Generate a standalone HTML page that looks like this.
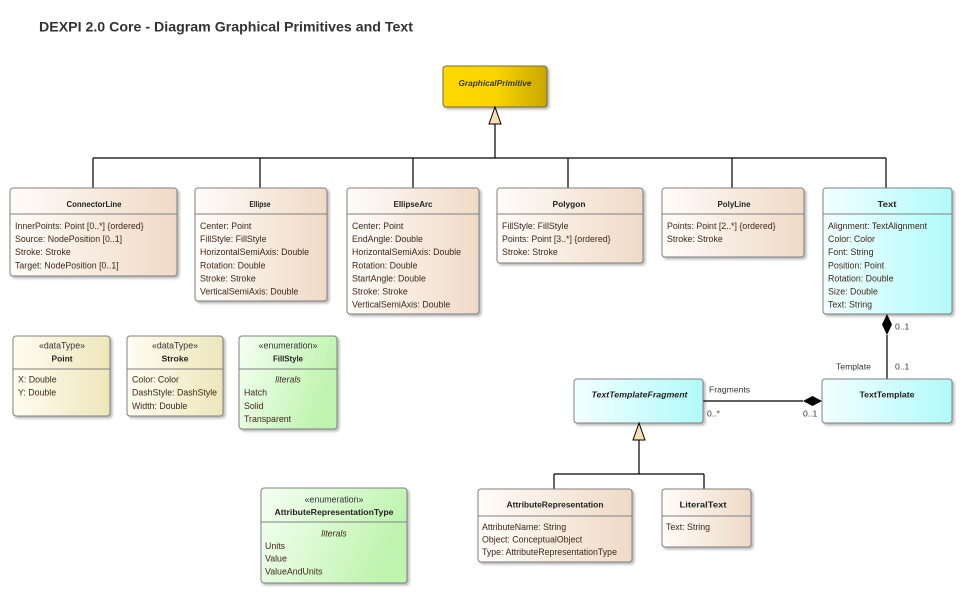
<!DOCTYPE html>
<html><head><meta charset="utf-8"><style>
html,body{margin:0;padding:0;background:#fff;}
svg{display:block;}
text{font-family:"Liberation Sans",Arial,sans-serif;}
.a{font-size:8.8px;fill:#3e2818;}
.h{font-size:8px;font-weight:bold;fill:#222;}
.s{font-size:8.8px;fill:#333;}
.l{font-size:8.6px;fill:#333;}
.it{font-style:italic;}
</style></head><body>
<svg width="962" height="593" viewBox="0 0 962 593" xmlns="http://www.w3.org/2000/svg">
<defs>
<linearGradient id="gc" x1="0" y1="0" x2="1" y2="0"><stop offset="0" stop-color="#FFFCF9"/><stop offset="1" stop-color="#EFDAC6"/></linearGradient>
<linearGradient id="gi" x1="0" y1="0" x2="1" y2="0"><stop offset="0" stop-color="#F2FFFF"/><stop offset="1" stop-color="#B2FAFA"/></linearGradient>
<linearGradient id="gd" x1="0" y1="0" x2="1" y2="0"><stop offset="0" stop-color="#FFFDF2"/><stop offset="1" stop-color="#EEE6BA"/></linearGradient>
<linearGradient id="ge" x1="0" y1="0" x2="1" y2="0.3"><stop offset="0" stop-color="#F6FFF4"/><stop offset="1" stop-color="#BEF4AE"/></linearGradient>
<linearGradient id="gg" x1="0" y1="0" x2="1" y2="0"><stop offset="0" stop-color="#FFD800"/><stop offset="0.5" stop-color="#FBD400"/><stop offset="1" stop-color="#C8A800"/></linearGradient>
<filter id="sh" x="-10%" y="-10%" width="130%" height="130%"><feDropShadow dx="2" dy="2" stdDeviation="1.2" flood-color="#000" flood-opacity="0.28"/></filter>
</defs>

<text x="39" y="31.5" font-size="14" font-weight="bold" fill="#333" textLength="374" lengthAdjust="spacingAndGlyphs">DEXPI 2.0 Core - Diagram Graphical Primitives and Text</text>

<g stroke="#000" stroke-width="1.2" fill="none">
<line x1="495" y1="124" x2="495" y2="158"/>
<line x1="93" y1="158" x2="886" y2="158"/>
<line x1="93" y1="158" x2="93" y2="188"/>
<line x1="260" y1="158" x2="260" y2="188"/>
<line x1="413" y1="158" x2="413" y2="188"/>
<line x1="568" y1="158" x2="568" y2="188"/>
<line x1="732" y1="158" x2="732" y2="188"/>
<line x1="886" y1="158" x2="886" y2="188"/>
<line x1="887" y1="335" x2="887" y2="379"/>
<line x1="703" y1="401" x2="803" y2="401"/>
<line x1="639" y1="440" x2="639" y2="474"/>
<line x1="554" y1="474" x2="704" y2="474"/>
<line x1="554" y1="474" x2="554" y2="489"/>
<line x1="704" y1="474" x2="704" y2="489"/>
</g>

<rect x="443" y="66" width="104" height="41" rx="3" fill="url(#gg)" stroke="#7a6a30" stroke-width="1" filter="url(#sh)"/>
<text x="495" y="86" text-anchor="middle" class="it" font-size="8.6" font-weight="600" fill="#3a3a2a" textLength="73" lengthAdjust="spacingAndGlyphs">GraphicalPrimitive</text>
<polygon points="495,107 489,124 501,124" fill="#FBDDB5" stroke="#000" stroke-width="1"/>

<g>
<rect x="10" y="188" width="167" height="88" rx="3" fill="url(#gc)" stroke="#808080" filter="url(#sh)"/>
<text x="94" y="207" text-anchor="middle" class="h" textLength="55" lengthAdjust="spacingAndGlyphs">ConnectorLine</text>
<line x1="10" y1="214" x2="177" y2="214" stroke="#808080"/>
<text x="15" y="229" class="a">InnerPoints: Point [0..*] {ordered}</text>
<text x="15" y="242.1" class="a">Source: NodePosition [0..1]</text>
<text x="15" y="255.2" class="a">Stroke: Stroke</text>
<text x="15" y="268.3" class="a">Target: NodePosition [0..1]</text>
</g>

<g>
<rect x="195" y="188" width="132" height="113" rx="3" fill="url(#gc)" stroke="#808080" filter="url(#sh)"/>
<text x="260" y="207" text-anchor="middle" class="h" textLength="21" lengthAdjust="spacingAndGlyphs">Ellipse</text>
<line x1="195" y1="214" x2="327" y2="214" stroke="#808080"/>
<text x="200" y="229" class="a">Center: Point</text>
<text x="200" y="242.1" class="a">FillStyle: FillStyle</text>
<text x="200" y="255.2" class="a">HorizontalSemiAxis: Double</text>
<text x="200" y="268.3" class="a">Rotation: Double</text>
<text x="200" y="281.4" class="a">Stroke: Stroke</text>
<text x="200" y="294.5" class="a">VerticalSemiAxis: Double</text>
</g>

<g>
<rect x="347" y="188" width="132" height="126" rx="3" fill="url(#gc)" stroke="#808080" filter="url(#sh)"/>
<text x="413" y="207" text-anchor="middle" class="h" textLength="39" lengthAdjust="spacingAndGlyphs">EllipseArc</text>
<line x1="347" y1="214" x2="479" y2="214" stroke="#808080"/>
<text x="352" y="229" class="a">Center: Point</text>
<text x="352" y="242.1" class="a">EndAngle: Double</text>
<text x="352" y="255.2" class="a">HorizontalSemiAxis: Double</text>
<text x="352" y="268.3" class="a">Rotation: Double</text>
<text x="352" y="281.4" class="a">StartAngle: Double</text>
<text x="352" y="294.5" class="a">Stroke: Stroke</text>
<text x="352" y="307.6" class="a">VerticalSemiAxis: Double</text>
</g>

<g>
<rect x="497" y="188" width="146" height="75" rx="3" fill="url(#gc)" stroke="#808080" filter="url(#sh)"/>
<text x="569" y="207" text-anchor="middle" class="h" textLength="33" lengthAdjust="spacingAndGlyphs">Polygon</text>
<line x1="497" y1="214" x2="643" y2="214" stroke="#808080"/>
<text x="502" y="229" class="a">FillStyle: FillStyle</text>
<text x="502" y="242.1" class="a">Points: Point [3..*] {ordered}</text>
<text x="502" y="255.2" class="a">Stroke: Stroke</text>
</g>

<g>
<rect x="662" y="188" width="142" height="69" rx="3" fill="url(#gc)" stroke="#808080" filter="url(#sh)"/>
<text x="734" y="207" text-anchor="middle" class="h" textLength="33" lengthAdjust="spacingAndGlyphs">PolyLine</text>
<line x1="662" y1="214" x2="804" y2="214" stroke="#808080"/>
<text x="667" y="229" class="a">Points: Point [2..*] {ordered}</text>
<text x="667" y="242.1" class="a">Stroke: Stroke</text>
</g>

<g>
<rect x="823" y="188" width="129" height="126" rx="3" fill="url(#gi)" stroke="#808080" filter="url(#sh)"/>
<text x="887" y="207" text-anchor="middle" class="h" textLength="19" lengthAdjust="spacingAndGlyphs">Text</text>
<line x1="823" y1="214" x2="952" y2="214" stroke="#808080"/>
<text x="828" y="229" class="a">Alignment: TextAlignment</text>
<text x="828" y="242.1" class="a">Color: Color</text>
<text x="828" y="255.2" class="a">Font: String</text>
<text x="828" y="268.3" class="a">Position: Point</text>
<text x="828" y="281.4" class="a">Rotation: Double</text>
<text x="828" y="294.5" class="a">Size: Double</text>
<text x="828" y="307.6" class="a">Text: String</text>
</g>

<g>
<rect x="13" y="336" width="97" height="80" rx="3" fill="url(#gd)" stroke="#808080" filter="url(#sh)"/>
<text x="62" y="348.3" text-anchor="middle" class="s">«dataType»</text>
<text x="62" y="361.5" text-anchor="middle" class="h" textLength="21" lengthAdjust="spacingAndGlyphs">Point</text>
<line x1="13" y1="369" x2="110" y2="369" stroke="#808080"/>
<text x="18" y="382.5" class="a">X: Double</text>
<text x="18" y="395.7" class="a">Y: Double</text>
</g>

<g>
<rect x="127" y="336" width="96" height="80" rx="3" fill="url(#gd)" stroke="#808080" filter="url(#sh)"/>
<text x="175" y="348.3" text-anchor="middle" class="s">«dataType»</text>
<text x="175" y="361.5" text-anchor="middle" class="h" textLength="27" lengthAdjust="spacingAndGlyphs">Stroke</text>
<line x1="127" y1="369" x2="223" y2="369" stroke="#808080"/>
<text x="132" y="382.5" class="a">Color: Color</text>
<text x="132" y="395.7" class="a">DashStyle: DashStyle</text>
<text x="132" y="408.8" class="a">Width: Double</text>
</g>

<g>
<rect x="239" y="336" width="98" height="93" rx="3" fill="url(#ge)" stroke="#808080" filter="url(#sh)"/>
<text x="288" y="348.3" text-anchor="middle" class="s">«enumeration»</text>
<text x="288" y="361.5" text-anchor="middle" class="h" textLength="30" lengthAdjust="spacingAndGlyphs">FillStyle</text>
<line x1="239" y1="369" x2="337" y2="369" stroke="#808080"/>
<text x="288" y="382.5" text-anchor="middle" class="a it">literals</text>
<text x="244" y="395.7" class="a">Hatch</text>
<text x="244" y="408.8" class="a">Solid</text>
<text x="244" y="421.9" class="a">Transparent</text>
</g>

<polygon points="887,314 892,324.5 887,335 882,324.5" fill="#000"/>
<text x="895" y="329.7" class="l">0..1</text>
<text x="836" y="369.7" class="l">Template</text>
<text x="895" y="369.7" class="l">0..1</text>

<rect x="574" y="379" width="129" height="44" rx="3" fill="url(#gi)" stroke="#808080" filter="url(#sh)"/>
<text x="639.5" y="397.5" text-anchor="middle" class="h it" textLength="96" lengthAdjust="spacingAndGlyphs">TextTemplateFragment</text>

<rect x="822" y="379" width="130" height="44" rx="3" fill="url(#gi)" stroke="#808080" filter="url(#sh)"/>
<text x="887" y="397.5" text-anchor="middle" class="h" textLength="55" lengthAdjust="spacingAndGlyphs">TextTemplate</text>

<polygon points="803,401 812.5,396 822,401 812.5,406" fill="#000"/>
<text x="709" y="392.3" class="l">Fragments</text>
<text x="707" y="416.3" class="l">0..*</text>
<text x="803" y="416.3" class="l">0..1</text>

<polygon points="639,423 633,440 645,440" fill="#FBDDB5" stroke="#000" stroke-width="1"/>

<g>
<rect x="261" y="488" width="146" height="95" rx="3" fill="url(#ge)" stroke="#808080" filter="url(#sh)"/>
<text x="334" y="502.3" text-anchor="middle" class="s">«enumeration»</text>
<text x="334" y="515" text-anchor="middle" class="h" textLength="119" lengthAdjust="spacingAndGlyphs">AttributeRepresentationType</text>
<line x1="261" y1="522" x2="407" y2="522" stroke="#808080"/>
<text x="334" y="536.3" text-anchor="middle" class="a it">literals</text>
<text x="265" y="549" class="a">Units</text>
<text x="265" y="561.7" class="a">Value</text>
<text x="265" y="574.3" class="a">ValueAndUnits</text>
</g>

<g>
<rect x="478" y="489" width="154" height="73" rx="3" fill="url(#gc)" stroke="#808080" filter="url(#sh)"/>
<text x="555" y="507.5" text-anchor="middle" class="h" textLength="97" lengthAdjust="spacingAndGlyphs">AttributeRepresentation</text>
<line x1="478" y1="516" x2="632" y2="516" stroke="#808080"/>
<text x="482" y="529.8" class="a">AttributeName: String</text>
<text x="482" y="542.3" class="a">Object: ConceptualObject</text>
<text x="482" y="555" class="a">Type: AttributeRepresentationType</text>
</g>

<g>
<rect x="662" y="489" width="89" height="58" rx="3" fill="url(#gc)" stroke="#808080" filter="url(#sh)"/>
<text x="703" y="507.5" text-anchor="middle" class="h" textLength="47" lengthAdjust="spacingAndGlyphs">LiteralText</text>
<line x1="662" y1="516" x2="751" y2="516" stroke="#808080"/>
<text x="666" y="529.8" class="a">Text: String</text>
</g>
</svg>
</body></html>
